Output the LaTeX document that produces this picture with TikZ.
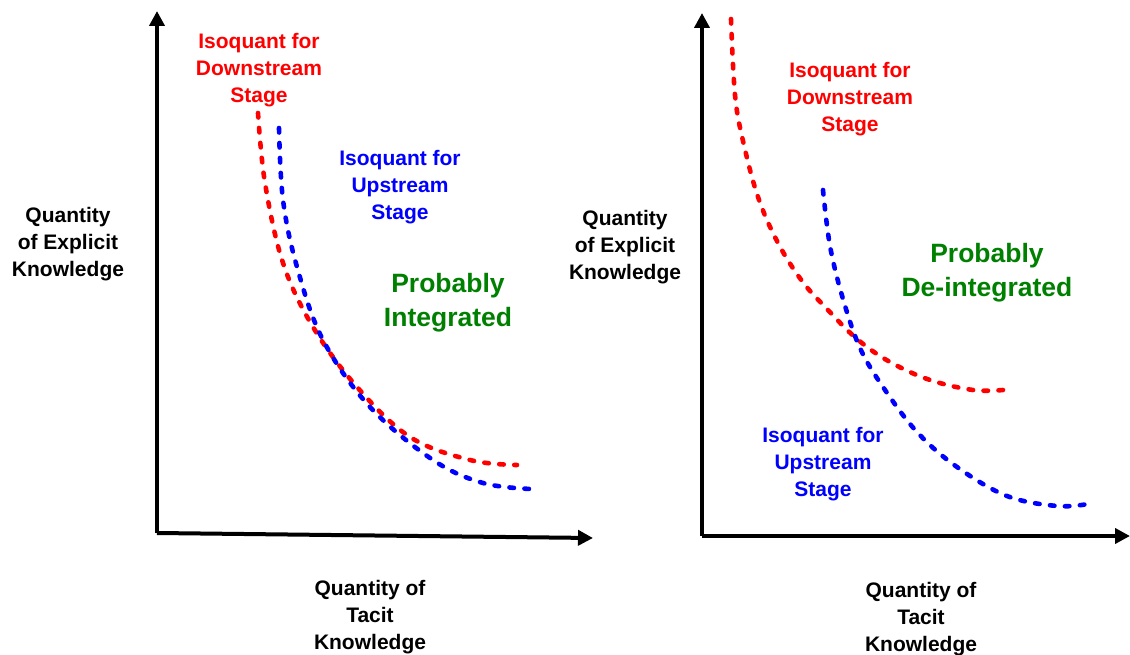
\documentclass[tikz,border=0pt]{standalone}
\usepackage{fontspec}
\setmainfont{Liberation Sans}
\usetikzlibrary{arrows.meta, positioning}

\definecolor{isored}{RGB}{255,0,0}
\definecolor{isoblue}{RGB}{0,0,255}
\definecolor{isogreen}{RGB}{0,128,0}

\begin{document}
\begin{tikzpicture}[x=1pt, y=-1pt, >=stealth]
    % Styles
    \tikzstyle{axis} = [line width=4pt, -{Triangle[length=15pt, width=15pt]}]
    \tikzstyle{label} = [align=center, inner sep=0pt, font=\fontsize{21}{27}\selectfont\bfseries]
    \tikzstyle{verdict} = [align=center, inner sep=0pt, text=isogreen, font=\fontsize{26.5}{34}\selectfont\bfseries]
    \tikzstyle{downcurve} = [draw=isored, line width=4.6pt, line cap=round, dash pattern=on 4.5pt off 10.5pt]
    \tikzstyle{upcurve} = [draw=isoblue, line width=4.6pt, line cap=round, dash pattern=on 4.5pt off 10.5pt]

    \useasboundingbox (0,0) rectangle (1130,655);

    % Axes
    \coordinate (oL) at (157,533);
    \coordinate (yL) at (157,11);
    \coordinate (xL) at (593,538);
    \coordinate (oR) at (702,536);
    \coordinate (yR) at (702,13);
    \coordinate (xR) at (1130,536);
    \draw [axis] (oL) -- (yL);
    \draw [axis] (oL) -- (xL);
    \draw [axis] (oR) -- (yR);
    \draw [axis] (oR) -- (xR);

    % Left panel
    \draw [downcurve] plot [smooth, tension=0.6] coordinates {(258,113) (265,183) (283,263) (313,327) (357,387) (410,437) (470,460) (517,465)};
    \draw [upcurve] plot [smooth, tension=0.6] coordinates {(279,128) (283,200) (297,267) (323,340) (370,407) (433,460) (483,483) (531,489)};

    \node [label] (explicitL) at (68,244) {Quantity\\of Explicit\\Knowledge};
    \node [label] (tacitL) at (370,617) {Quantity of\\Tacit\\Knowledge};
    \node [label, text=isored] (downL) at (259,70) {Isoquant for\\Downstream\\Stage};
    \node [label, text=isoblue] (upL) at (400,187) {Isoquant for\\Upstream\\Stage};
    \node [verdict] (integ) at (448,303) {Probably\\Integrated};

    % Right panel
    \draw [downcurve] plot [smooth, tension=0.6] coordinates {(731,19) (735,95) (743,141) (758,197) (778,243) (802,281) (827,309) (857,339) (890,362) (930,380) (973,390) (1003,390)};
    \draw [upcurve] plot [smooth, tension=0.6] coordinates {(823,190) (830,246) (843,299) (860,348) (883,387) (917,432) (957,467) (1007,496) (1057,506) (1088,504)};

    \node [label] (explicitR) at (625,247) {Quantity\\of Explicit\\Knowledge};
    \node [label] (tacitR) at (921,619) {Quantity of\\Tacit\\Knowledge};
    \node [label, text=isored] (downR) at (850,99) {Isoquant for\\Downstream\\Stage};
    \node [label, text=isoblue] (upR) at (823,464) {Isoquant for\\Upstream\\Stage};
    \node [verdict] (deinteg) at (987,273) {Probably\\De-integrated};

\end{tikzpicture}
\end{document}
